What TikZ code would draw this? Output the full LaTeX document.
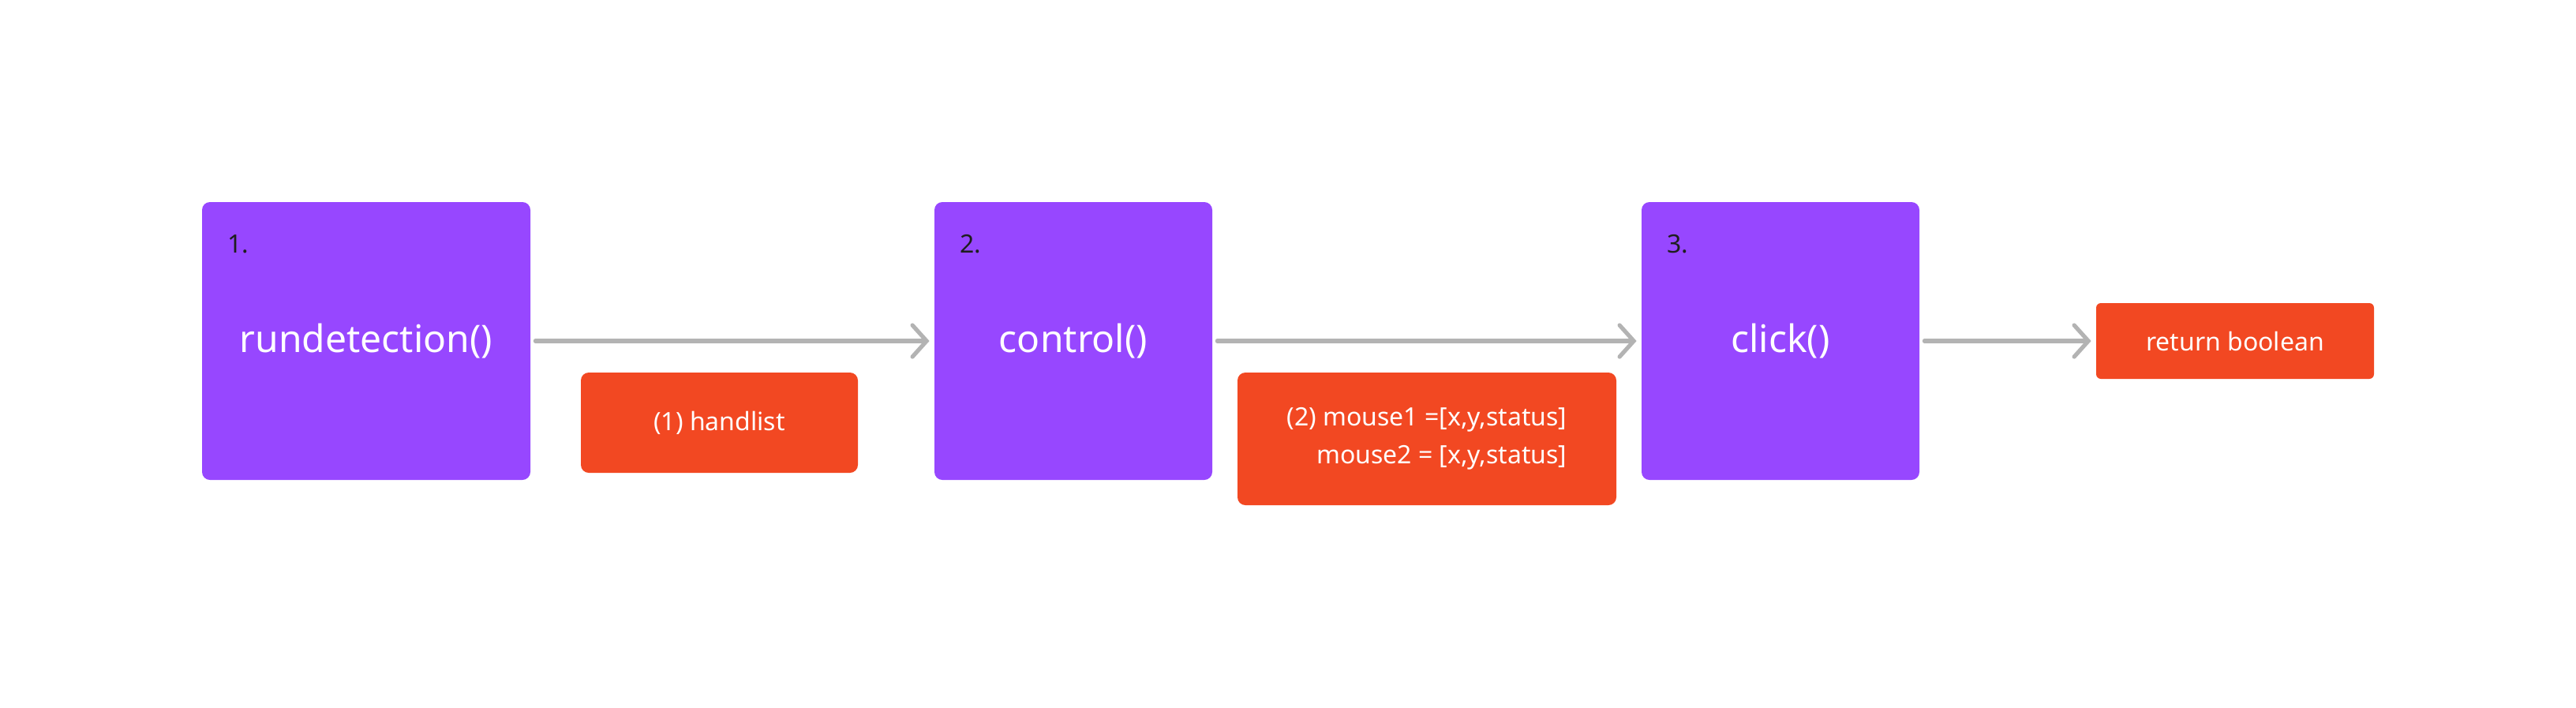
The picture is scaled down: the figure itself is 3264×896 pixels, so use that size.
\documentclass[tikz,border=0pt]{standalone}
\usepackage{fontspec}
\setmainfont{Noto Sans}
\usetikzlibrary{arrows.meta}
\definecolor{purp}{HTML}{9747FF}
\definecolor{orng}{HTML}{F24822}
\definecolor{arrg}{HTML}{B3B3B3}
\definecolor{numc}{HTML}{1E1E1E}
\tikzset{
  fnbox/.style={fill=purp, rounded corners=5pt, inner sep=0pt, text=white, font=\fontsize{24}{28}\selectfont},
  databox/.style={fill=orng, rounded corners=5pt, inner sep=0pt, text=white, font=\fontsize{16}{24}\selectfont},
  numlbl/.style={anchor=base west, inner sep=0pt, text=numc, font=\fontsize{16}{20}\selectfont},
  flow/.style={draw=arrg, line width=2.6pt, line cap=round, shorten <=3pt, shorten >=3pt,
    -{Straight Barb[length=9pt,width=20pt,line cap=round]}}
}
\begin{document}
\begin{tikzpicture}[x=0.5pt,y=-0.5pt]
\useasboundingbox[fill=white] (0,0) rectangle (3264,896);
\node[fnbox, minimum width=208pt, minimum height=176pt] (b1) at (464,432) {rundetection()};
\node[fnbox, minimum width=176pt, minimum height=176pt] (b2) at (1360,432) {control()};
\node[fnbox, minimum width=176pt, minimum height=176pt] (b3) at (2256,432) {click()};
\node[numlbl] (n1) at (288,320) {1.};
\node[numlbl] (n2) at (1216,320) {2.};
\node[numlbl] (n3) at (2112,320) {3.};
\node[databox, minimum width=175.5pt, minimum height=63.5pt] (d1) at (911.5,535.5) {(1) handlist};
\node[databox, minimum width=240pt, minimum height=84pt, align=right] (d2) at (1808,556) {(2) mouse1 =[x,y,status]\\mouse2 = [x,y,status]};
\node[databox, rounded corners=3pt, minimum width=176pt, minimum height=48pt] (d3) at (2832,432) {return boolean};
\draw[flow] (b1.east) -- (b2.west);
\draw[flow] (b2.east) -- (b3.west);
\draw[flow] (b3.east) -- (b3.east -| d3.west);
\end{tikzpicture}
\end{document}
